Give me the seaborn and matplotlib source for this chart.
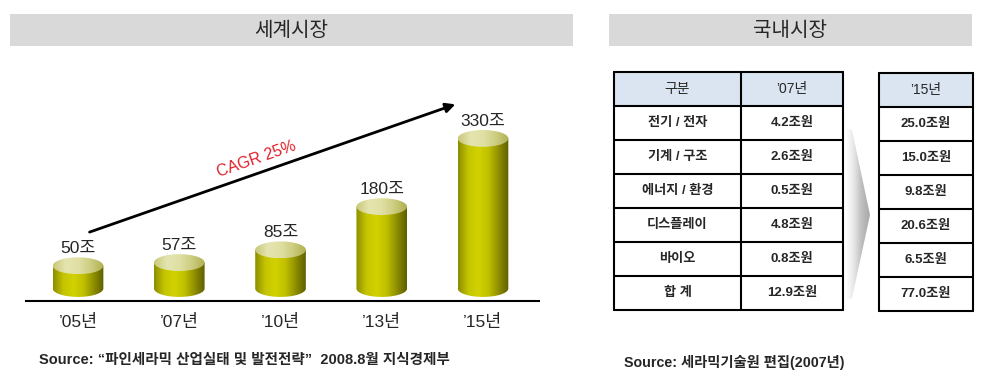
import numpy as np
import pandas as pd
import seaborn as sns
import matplotlib.pyplot as plt
from matplotlib.patches import Ellipse, Rectangle, Polygon, PathPatch
from matplotlib.path import Path
from matplotlib.colors import LinearSegmentedColormap

# world market (조)
years = ["’05년", "’07년", "’10년", "’13년", "’15년"]
market = [50, 57, 85, 180, 330]
cagr_label = "CAGR 25%"

# domestic market (조원)
segments = ["전기 / 전자", "기계 / 구조", "에너지 / 환경", "디스플레이", "바이오", "합 계"]
won_07 = [4.2, 2.6, 0.5, 4.8, 0.8, 12.9]
won_15 = [25.0, 15.0, 9.8, 20.6, 6.5, 77.0]
table_header = ["구분", "’07년"]
table2_header = ["’15년"]

source_left = "Source: “파인세라믹 산업실태 및 발전전략”  2008.8월 지식경제부"
source_right = "Source: 세라믹기술원 편집(2007년)"

sns.set_theme(style="white")
plt.rcParams["font.family"] = ["Liberation Sans", "Noto Sans CJK KR", "DejaVu Sans"]

fig = plt.figure(figsize=(9.84, 3.81), dpi=100)

# background layer in pixel coordinates for headers / tables
ov = fig.add_axes([0, 0, 1, 1], zorder=-1)
ov.add_patch(Rectangle((10, 14), 563, 32, fc="#d9d9d9", ec="none"))
ov.text(291, 31, "세계시장", ha="center", va="center", fontsize=14.5)
ov.add_patch(Rectangle((609, 14), 363, 32, fc="#d9d9d9", ec="none"))
ov.text(790, 31, "국내시장", ha="center", va="center", fontsize=14.5)

grad = np.linspace(0, 1, 256).reshape(1, -1)

# ---- cylinder chart ----
ax = fig.add_axes([26 / 984, 80 / 381, 513 / 984, 211 / 381])
df = pd.DataFrame({"year": years, "value": market})
sns.barplot(data=df, x="year", y="value", width=0.5, color="#b5b500", ax=ax)

body_cmap = LinearSegmentedColormap.from_list(
    "body", ["#8c8c00", "#c4c400", "#d2d200", "#c0c000", "#8e8e00", "#5e5e00"])
top_cmap = LinearSegmentedColormap.from_list(
    "top", ["#c8c878", "#e4e4b0", "#e0e0a4", "#cccc80", "#b0b050"])
ell_h = 37

for p, val in zip(ax.patches, market):
    x0, w, h = p.get_x(), p.get_width(), p.get_height()
    xc = x0 + w / 2
    p.set_visible(False)
    t = np.linspace(np.pi, 2 * np.pi, 60)
    verts = [(x0, h), (x0, 0)] + list(zip(xc + w / 2 * np.cos(t), ell_h / 2 * np.sin(t))) + [(x0 + w, h), (x0, h)]
    codes = [Path.MOVETO] + [Path.LINETO] * (len(verts) - 2) + [Path.CLOSEPOLY]
    body = PathPatch(Path(verts, codes), fc="none", ec="none", transform=ax.transData)
    ax.add_patch(body)
    im = ax.imshow(grad, cmap=body_cmap, extent=(x0, x0 + w, -ell_h / 2, h),
                   aspect="auto", origin="lower", zorder=2)
    im.set_clip_path(body)
    top = Ellipse((xc, h), w, ell_h, fc="none", ec="none", transform=ax.transData)
    ax.add_patch(top)
    im2 = ax.imshow(grad, cmap=top_cmap, extent=(x0, x0 + w, h - ell_h / 2, h + ell_h / 2),
                    aspect="auto", origin="lower", zorder=3)
    im2.set_clip_path(top)
    ax.annotate(f"{val}조", (xc, h), xytext=(0, 12.5), textcoords="offset points",
                ha="center", va="center", fontsize=12.5)

ax.set_xlim(-0.514, 4.553)
ax.set_ylim(-27.5, 436.5)
ax.patch.set_alpha(0)
sns.despine(ax=ax, left=True)
ax.spines["bottom"].set_color("black")
ax.spines["bottom"].set_linewidth(1.5)
ax.set_yticks([])
ax.set_xlabel("")
ax.set_ylabel("")
ax.tick_params(axis="x", length=0, pad=9, labelsize=12.5)

ax.annotate("", xy=(3.753, 407), xytext=(0.088, 122),
            arrowprops=dict(arrowstyle="-|>", color="black", lw=2, mutation_scale=14),
            annotation_clip=False)
ax.text(1.758, 285, cagr_label, rotation=19.3, rotation_mode="anchor",
        ha="center", va="center", color="#e0202a", fontsize=11.5)

ov.text(39, 360, source_left, ha="left", va="center", fontsize=10.5, fontweight="bold")
ov.text(624, 362, source_right, ha="left", va="center", fontsize=10.3, fontweight="bold")


# ---- tables ----
def draw_table(x_edges, y_top, row_h, header, rows):
    n = len(rows) + 1
    ov.add_patch(Rectangle((x_edges[0], y_top), x_edges[-1] - x_edges[0], row_h,
                           fc="#dbe5f1", ec="none"))
    for i in range(n + 1):
        y = y_top + i * row_h
        ov.plot([x_edges[0], x_edges[-1]], [y, y], color="black", lw=1.5)
    for x in x_edges:
        ov.plot([x, x], [y_top, y_top + n * row_h], color="black", lw=1.5)
    for j, label in enumerate(header):
        ov.text((x_edges[j] + x_edges[j + 1]) / 2, y_top + row_h / 2, label,
                ha="center", va="center", fontsize=10)
    for i, row in enumerate(rows):
        for j, label in enumerate(row):
            ov.text((x_edges[j] + x_edges[j + 1]) / 2, y_top + (i + 1.5) * row_h, label,
                    ha="center", va="center", fontsize=9.5, fontweight="bold")


rows1 = [[s, f"{v:.1f}조원"] for s, v in zip(segments, won_07)]
rows2 = [[f"{v:.1f}조원"] for v in won_15]
draw_table([614, 741, 843], 72, 34, table_header, rows1)
draw_table([879, 973], 73, 34, table2_header, rows2)

# shaded chevron between the tables
chev = Polygon([(846, 128), (852, 130), (870, 215), (852, 298), (846, 300)],
               closed=True, fc="none", ec="none")
ov.add_patch(chev)
chev_cmap = LinearSegmentedColormap.from_list("chev", ["#ffffff", "#e6e6e6", "#bdbdbd", "#a8a8a8"])
imc = ov.imshow(grad, cmap=chev_cmap, extent=(846, 870, 300, 128), aspect="auto", zorder=1)
imc.set_clip_path(chev)

ov.set_xlim(0, 984)
ov.set_ylim(381, 0)
ov.axis("off")

fig.savefig("out.png", dpi=100)
